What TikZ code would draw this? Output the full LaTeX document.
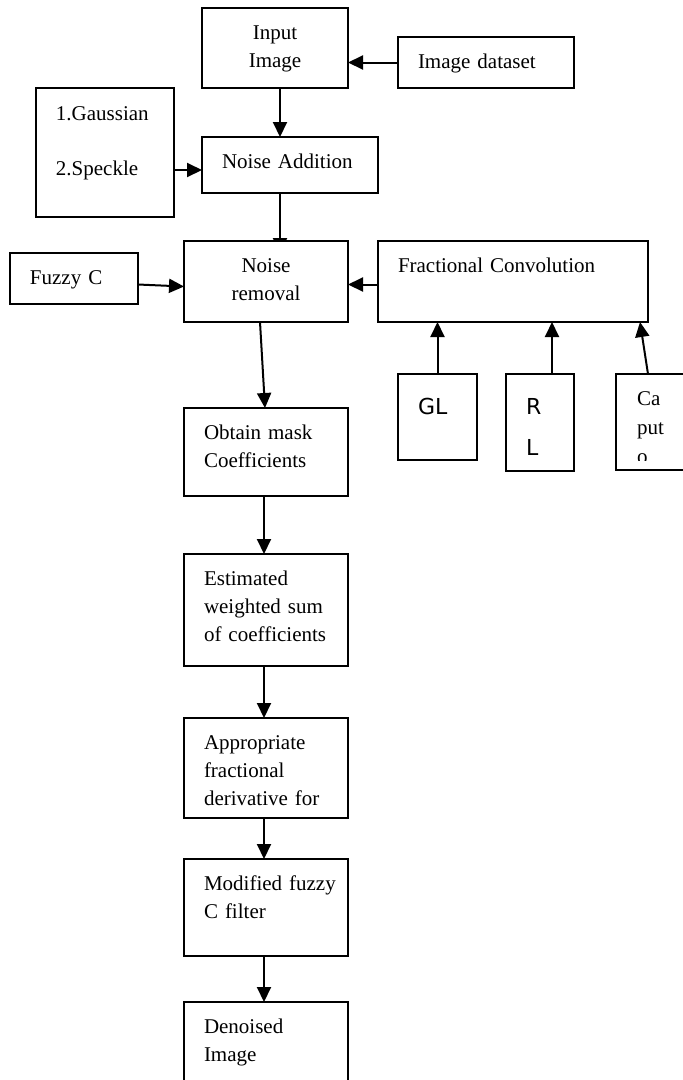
\documentclass[tikz,border=0pt]{standalone}
\usepackage{fontspec}
\setmainfont{Liberation Serif}
\newfontfamily\glfont{DejaVu Sans}
\usepackage{tikz}
\usetikzlibrary{positioning}
\usetikzlibrary{shapes,arrows,calc,arrows.meta,backgrounds}

\begin{document}
\begin{tikzpicture}[x=1pt, y=-1pt,
    box/.style={draw, fill=white, line width=2pt, rectangle, anchor=north west, outer sep=0pt,
      inner xsep=20pt, inner ysep=0pt, align=left, text height=31pt,
      font=\fontsize{21}{28}\selectfont},
    sbox/.style={box, text height=40pt, font={\glfont\fontsize{22}{41}\selectfont}},
    arr/.style={-{Triangle[length=15pt,width=14pt]}, line width=2pt}]
    \useasboundingbox (0,0) rectangle (683,1080);
    \clip (0,0) rectangle (683,1080);

    % Nodes
    \node [box, align=center, text width=106pt, text depth=49pt] (input) at (202,8) {Input\\Image};
    \node [box, text width=136pt, text depth=20pt] (dataset) at (398,37) {Image~dataset};
    \node [box, text width=98pt, text height=32pt, text depth=97pt] (noiselist) at (36,88) {1.Gaussian\\[27pt]2.Speckle};
    \node [box, text width=136pt, text depth=25pt] (addition) at (202,137) {Noise~Addition};

    \node [box, text width=88pt, text depth=20pt] (fuzzy) at (10,253) {Fuzzy~C};
    \node [box, align=center, text width=124pt, text depth=50pt] (removal) at (184,241) {Noise\\removal};
    \node [box, text width=230pt, text depth=50pt] (fracconv) at (378,241) {Fractional Convolution};

    \node [sbox, text width=39pt, text depth=46pt] (gl) at (398,374) {GL};
    \node [sbox, text width=28pt, text depth=57pt] (rl) at (506,374) {R\\L};
    \node [box, text width=50pt, text depth=65pt,
      path picture={
        \clip (path picture bounding box.north west) rectangle ($(path picture bounding box.south east)+(0,-10)$);
        \node [draw=none, fill=none, anchor=base west, inner sep=0pt, text width=60pt,
          align=left, font=\fontsize{21}{29}\selectfont] (caputotext)
          at ($(path picture bounding box.north west)+(21,31)$) {Ca\\put\\o};}] (caputo) at (616,374) {};

    \node [box, text width=124pt, text depth=57pt] (mask) at (184,408) {Obtain~mask\\Coefficients};
    \node [box, text width=124pt, text depth=81pt, below=58pt of mask] (estimated) {Estimated\\weighted~sum\\of~coefficients};
    \node [box, text width=124pt, text depth=69pt, below=52pt of estimated] (appropriate) {Appropriate\\fractional\\derivative~for};
    \node [box, text width=124pt, text depth=66pt, below=41pt of appropriate] (modified) {Modified~fuzzy\\C~filter};
    \node [box, text width=124pt, text depth=69pt, below=46pt of modified] (denoised) {Denoised\\Image};

    % Arrows
    \begin{scope}[on background layer]
    \draw [arr] (dataset.west) -- (dataset.west -| input.east);
    \draw [arr] ([xshift=5pt]input.south) -- ($(input.south |- addition.north)+(5,0)$);
    \draw [arr] ([yshift=-17.5pt]noiselist.east) -- ([yshift=-5pt]addition.west);
    \draw [arr] ($(addition.south)+(-10,0)$) -- ($(addition.south |- removal.north)+(-10,12)$);
    \draw [arr] ([yshift=-6pt]fuzzy.east) -- ([yshift=-5pt]removal.west);
    \draw [arr] ([yshift=-3pt]fracconv.west) -- ([yshift=-3pt]removal.east);
    \draw [arr] (gl.north) -- (gl.north |- fracconv.south);
    \draw [arr] ($(rl.north)+(12,0)$) -- ($(rl.north |- fracconv.south)+(12,0)$);
    \draw [arr] ([xshift=-13pt]caputo.north) -- ([xshift=127pt]fracconv.south);
    \draw [arr] ([xshift=-6pt]removal.south) -- ([xshift=-1pt]mask.north);
    \draw [arr] ([xshift=-2pt]mask.south) -- ([xshift=-2pt]estimated.north);
    \draw [arr] ([xshift=-2pt]estimated.south) -- ([xshift=-2pt]appropriate.north);
    \draw [arr] ([xshift=-2pt]appropriate.south) -- ([xshift=-2pt]modified.north);
    \draw [arr] ([xshift=-2pt]modified.south) -- ([xshift=-2pt]denoised.north);
    \end{scope}
\end{tikzpicture}
\end{document}
